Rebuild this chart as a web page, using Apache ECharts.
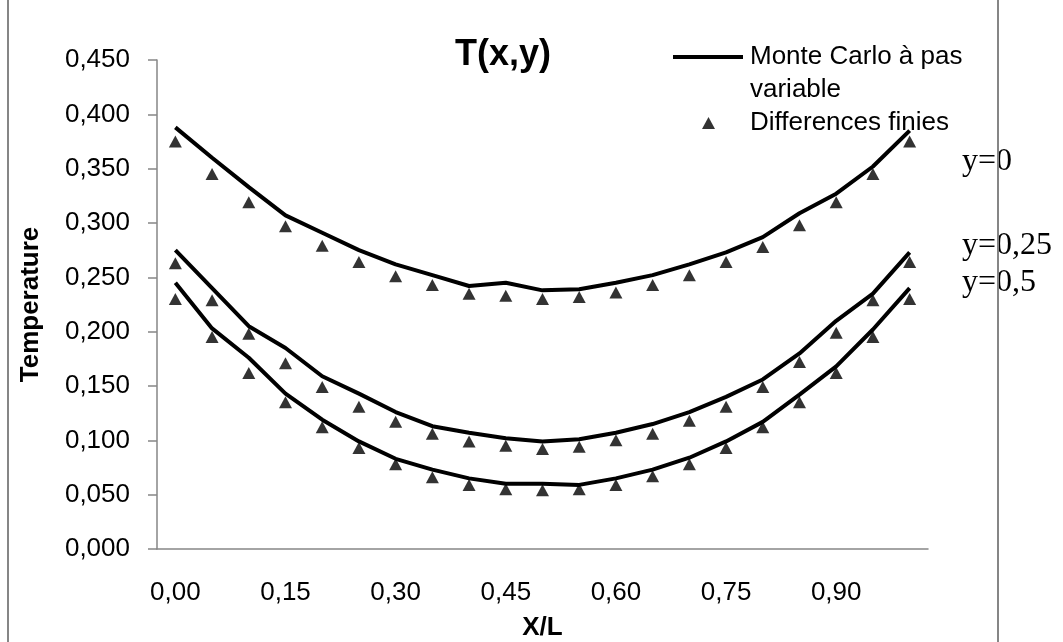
<!DOCTYPE html>
<html>
<head>
<meta charset="utf-8">
<script src="https://cdn.jsdelivr.net/npm/echarts@6/dist/echarts.min.js"></script>
<style>
  html, body { margin: 0; padding: 0; background: #fff; }
  #chart { width: 1063px; height: 642px; }
</style>
</head>
<body>
<div id="chart"></div>
<script>
// X/L categories (0,00 .. 1,00 step 0,05)
var xLabels = ['0,00','0,05','0,10','0,15','0,20','0,25','0,30','0,35','0,40','0,45','0,50',
               '0,55','0,60','0,65','0,70','0,75','0,80','0,85','0,90','0,95','1,00'];

// Monte Carlo a pas variable (lines)
var mcY0   = [0.388,0.360,0.333,0.307,0.291,0.275,0.262,0.252,0.242,0.245,0.238,
              0.239,0.245,0.252,0.262,0.273,0.287,0.309,0.327,0.352,0.385];
var mcY025 = [0.275,0.240,0.205,0.185,0.159,0.143,0.126,0.113,0.107,0.102,0.099,
              0.101,0.107,0.115,0.126,0.140,0.156,0.180,0.210,0.235,0.273];
var mcY05  = [0.245,0.203,0.176,0.143,0.119,0.099,0.083,0.073,0.065,0.060,0.060,
              0.059,0.065,0.073,0.084,0.099,0.117,0.142,0.168,0.202,0.240];

// Differences finies (triangles)
var dfY0   = [0.375,0.345,0.319,0.297,0.279,0.264,0.251,0.243,0.235,0.233,0.230,
              0.232,0.236,0.243,0.252,0.264,0.278,0.298,0.319,0.345,0.375];
var dfY025 = [0.263,0.229,0.198,0.171,0.149,0.131,0.117,0.106,0.099,0.095,0.092,
              0.094,0.100,0.106,0.118,0.131,0.149,0.172,0.199,0.229,0.264];
var dfY05  = [0.230,0.195,0.162,0.135,0.112,0.093,0.078,0.066,0.059,0.055,0.054,
              0.055,0.059,0.067,0.078,0.093,0.112,0.135,0.162,0.195,0.230];

var curveLabels = ['y=0', 'y=0,25', 'y=0,5'];

var MC = 'Monte Carlo à pas variable';
var DF = 'Differences finies';
var FONT = "'Liberation Sans', Arial, sans-serif";
var SERIF = "32px 'Liberation Serif', 'Times New Roman', serif";

function mcSeries(data) {
    return { name: MC, type: 'line', data: data, symbol: 'none', smooth: false,
             itemStyle: { color: '#000' }, lineStyle: { color: '#000', width: 4 } };
}
function dfSeries(data) {
    return { name: DF, type: 'scatter', data: data, symbol: 'triangle', symbolSize: [13, 12],
             itemStyle: { color: '#000' } };
}

var chart = echarts.init(document.getElementById('chart'), null, { renderer: 'canvas' });
chart.setOption({
    animation: false,
    backgroundColor: '#fff',
    textStyle: { fontFamily: FONT },
    title: {
        text: 'T(x,y)', left: 455, top: 37, padding: 0,
        textStyle: { fontFamily: FONT, fontSize: 36, fontWeight: 'bold', color: '#000' }
    },
    legend: [{
        data: [MC], left: 673, top: 40.5, padding: 0,
        icon: 'rect', itemWidth: 70, itemHeight: 4,
        formatter: function () { return 'Monte Carlo à pas'; },
        textStyle: { fontFamily: FONT, fontSize: 26, color: '#000', lineHeight: 33, padding: [0, 0, 0, 2] }
    }, {
        data: [DF], left: 702, top: 106.5, padding: 0,
        icon: 'triangle', itemWidth: 13, itemHeight: 12,
        textStyle: { fontFamily: FONT, fontSize: 26, color: '#000', lineHeight: 33, padding: [0, 0, 0, 30] }
    }],
    grid: { left: 157, right: 135, top: 60, bottom: 93, containLabel: false, outerBoundsMode: 'none' },
    xAxis: {
        type: 'category', data: xLabels, boundaryGap: true,
        name: 'X/L', nameLocation: 'middle', nameGap: 66,
        nameTextStyle: { fontFamily: FONT, fontSize: 26, fontWeight: 'bold', color: '#000' },
        axisLine: { lineStyle: { color: '#868686', width: 1.5 } },
        axisTick: { show: false },
        axisLabel: { interval: 2, margin: 31, fontFamily: FONT, fontSize: 26, color: '#000' },
        splitLine: { show: false }
    },
    yAxis: {
        type: 'value', min: 0, max: 0.45, interval: 0.05,
        name: 'Temperature', nameLocation: 'middle', nameGap: 113, nameRotate: 90,
        nameTextStyle: { fontFamily: FONT, fontSize: 26, fontWeight: 'bold', color: '#000' },
        axisLine: { show: true, lineStyle: { color: '#868686', width: 1.5 } },
        axisTick: { show: true, length: 9, lineStyle: { color: '#868686', width: 1.5 } },
        axisLabel: {
            margin: 27, fontFamily: FONT, fontSize: 26, color: '#000',
            formatter: function (v) { return v.toFixed(3).replace('.', ','); }
        },
        splitLine: { show: false }
    },
    graphic: [
        // second line of the first legend entry
        { type: 'text', x: 750, y: 90, style: { text: 'variable', font: "26px " + FONT, fill: '#000', verticalAlign: 'middle' } },
        { type: 'text', x: 962, y: 162, style: { text: curveLabels[0], font: SERIF, fill: '#000', verticalAlign: 'middle' } },
        { type: 'text', x: 962, y: 246, style: { text: curveLabels[1], font: SERIF, fill: '#000', verticalAlign: 'middle' } },
        { type: 'text', x: 962, y: 283, style: { text: curveLabels[2], font: SERIF, fill: '#000', verticalAlign: 'middle' } },
        { type: 'rect', shape: { x: 8, y: -20, width: 990, height: 700 },
          style: { fill: 'none', stroke: '#868686', lineWidth: 2 } }
    ],
    series: [
        mcSeries(mcY0), mcSeries(mcY025), mcSeries(mcY05),
        dfSeries(dfY0), dfSeries(dfY025), dfSeries(dfY05)
    ]
});
</script>
</body>
</html>
